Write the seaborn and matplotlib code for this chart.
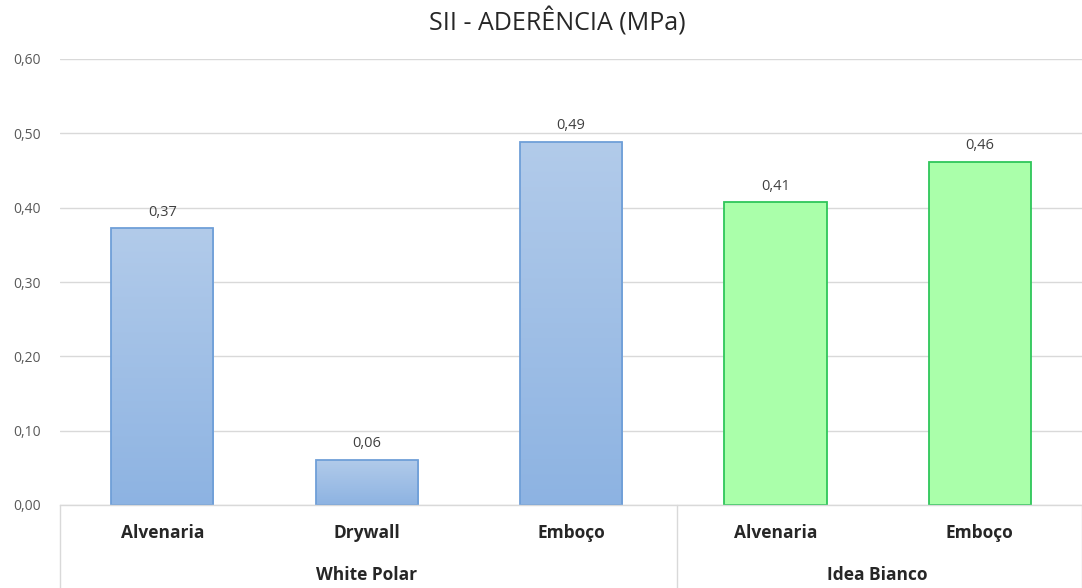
import numpy as np
import pandas as pd
import matplotlib
matplotlib.use("Agg")
import matplotlib.pyplot as plt
import matplotlib.transforms as mtransforms
from matplotlib.colors import LinearSegmentedColormap
import seaborn as sns

# Data
groups = ["White Polar", "White Polar", "White Polar", "Idea Bianco", "Idea Bianco"]
substrates = ["Alvenaria", "Drywall", "Emboço", "Alvenaria", "Emboço"]
adherence = [0.372, 0.061, 0.489, 0.407, 0.461]
group_names = ["White Polar", "Idea Bianco"]
yticks = [0.0, 0.1, 0.2, 0.3, 0.4, 0.5, 0.6]

df = pd.DataFrame({
    "slot": [f"{g}|{s}" for g, s in zip(groups, substrates)],
    "group": groups,
    "substrate": substrates,
    "value": adherence,
})

sns.set_theme(style="white")
plt.rcParams["font.family"] = ["Open Sans", "DejaVu Sans"]

fig = plt.figure(figsize=(10.82, 5.88), dpi=100)
W, H = 1082, 588
ax = fig.add_axes([60 / W, (H - 505) / H, 1 - 60 / W, (505 - 59) / H])

palette = {"White Polar": "#a3c1e6", "Idea Bianco": "#aaffaa"}
sns.barplot(data=df, x="slot", y="value", hue="group", palette=palette,
            dodge=False, width=0.5, saturation=1, legend=False, ax=ax, zorder=2)

edge = {"White Polar": "#6f9fd8", "Idea Bianco": "#2fc65a"}
blue_grad = LinearSegmentedColormap.from_list("bg", ["#8db3e2", "#b2cbea"])

for bar, g, v in zip(sorted(ax.patches, key=lambda p: p.get_x()), df["group"], df["value"]):
    bar.set_edgecolor(edge[g])
    bar.set_linewidth(1.3)
    x0, w, h = bar.get_x(), bar.get_width(), bar.get_height()
    if g == "White Polar":
        grad = np.linspace(0, 1, 256).reshape(-1, 1)
        im = ax.imshow(grad, cmap=blue_grad, origin="lower", aspect="auto",
                       extent=(x0, x0 + w, 0, h), zorder=1.5)
        im.set_clip_path(bar)
        bar.set_facecolor("none")
    ax.text(x0 + w / 2, h + 0.012, f"{v:.2f}".replace(".", ","),
            ha="center", va="bottom", fontsize=10.5, color="#404040")

ax.set_xlim(-0.5, 4.5)
ax.set_ylim(0, 0.6)
ax.set_yticks(yticks)
ax.set_yticklabels([f"{t:.2f}".replace(".", ",") for t in yticks],
                   fontsize=10, color="#595959")
ax.tick_params(axis="y", length=0, pad=14)
ax.set_xticks([])
ax.set_xlabel("")
ax.set_ylabel("")
ax.grid(axis="y", color="#d9d9d9", linewidth=1, zorder=0)
ax.set_axisbelow(True)
for s in ["top", "right", "left"]:
    ax.spines[s].set_visible(False)
ax.spines["bottom"].set_color("#d9d9d9")
ax.spines["bottom"].set_linewidth(1)

# Two-level category axis
trans = mtransforms.blended_transform_factory(ax.transData, ax.transAxes)
bottom = -(H - 505) / (505 - 59)
for i, s in enumerate(substrates):
    ax.text(i, -28 / (505 - 59), s, transform=trans, ha="center", va="center",
            fontsize=12.5, fontweight="bold", color="#262626")
for xs in [-0.5, 2.52, 4.5]:
    ax.plot([xs, xs], [0, bottom], transform=trans, color="#d9d9d9",
            linewidth=1, clip_on=False)
group_pos = {"White Polar": 1.0, "Idea Bianco": 3.5}
for g in group_names:
    ax.text(group_pos[g], -70 / (505 - 59), g, transform=trans, ha="center",
            va="center", fontsize=12.5, fontweight="bold", color="#262626")

fig.text(557 / W, 1 - 22 / H, "SII - ADERÊNCIA (MPa)", ha="center", va="center",
         fontsize=18, color="#262626")

fig.savefig("out.png", dpi=100, facecolor="white")
